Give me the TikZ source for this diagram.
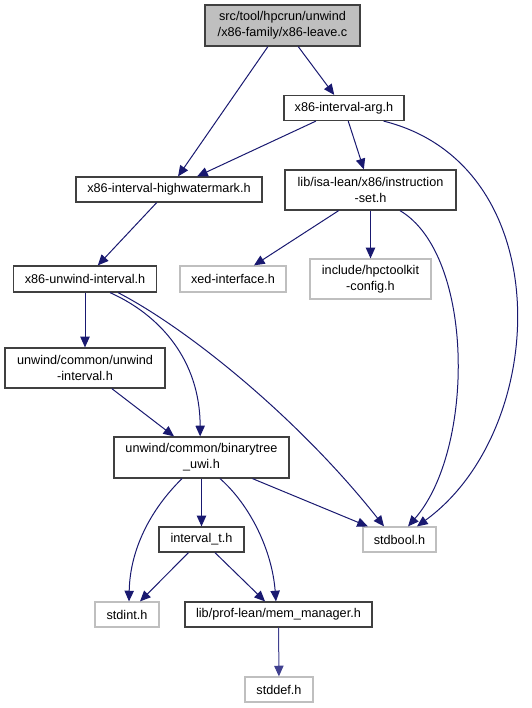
\documentclass[tikz,border=0pt]{standalone}
\usepackage{fontspec}
\setmainfont{Liberation Sans}
\usetikzlibrary{arrows.meta}
\definecolor{incedge}{HTML}{191970}
\definecolor{incfaint}{HTML}{40408F}
\definecolor{incframe}{HTML}{404040}
\definecolor{incgrey}{HTML}{BFBFBF}

\begin{document}
\begin{tikzpicture}[
        x=0.75pt, y=-0.75pt,
        font=\fontsize{9.5}{12}\selectfont,
        file/.style={draw=incframe, line width=0.9pt, rectangle, align=center,
                     inner sep=0pt, minimum height=18.75pt},
        twoline/.style={minimum height=30pt},
        ext/.style={file, draw=incgrey},
        root/.style={file, fill=incgrey},
        edge/.style={-{Triangle[length=8pt,width=7pt]}, incedge, line width=0.75pt},
        faint/.style={edge, incfaint}
    ]
        \useasboundingbox (0,0) rectangle (532,708);

        % files
        \node[root, twoline, minimum width=116.25pt, minimum height=30.75pt] (leave) at (282.5,25.5)
            {src/tool/hpcrun/unwind\\/x86-family/x86-leave.c};
        \node[file, minimum width=90pt] (arg) at (344,108) {x86-interval-arg.h};
        \node[file, minimum width=139.5pt] (hwm) at (169,189.5) {x86-interval-highwatermark.h};
        \node[file, twoline, minimum width=128.25pt] (iset) at (370.5,190)
            {lib/isa-lean/x86/instruction\\-set.h};
        \node[file, minimum width=107.25pt, minimum height=19.5pt] (uwint) at (85,279) {x86-unwind-interval.h};
        \node[ext, minimum width=79.5pt, minimum height=19.5pt] (xed) at (233,279) {xed-interface.h};
        \node[ext, twoline, minimum width=90.75pt] (hpctk) at (370.5,279)
            {include/hpctoolkit\\-config.h};
        \node[file, twoline, minimum width=120pt] (cmnint) at (85,368)
            {unwind/common/unwind\\-interval.h};
        \node[file, twoline, minimum width=131.25pt, minimum height=30.75pt] (btree) at (201.5,457.5)
            {unwind/common/binarytree\\\_uwi.h};
        \node[ext, minimum width=54.75pt] (stdbool) at (399.5,539.5) {stdbool.h};
        \node[file, minimum width=63.75pt] (ivalt) at (201.5,539.5) {interval\_t.h};
        \node[ext, minimum width=48pt] (stdint) at (127,614.5) {stdint.h};
        \node[file, minimum width=140.25pt] (memmgr) at (278.5,614.5) {lib/prof-lean/mem\_manager.h};
        \node[ext, minimum width=51pt] (stddef) at (279,689.5) {stddef.h};

        % includes
        \draw[edge] (leave) -- (hwm);
        \draw[edge] (leave) -- (arg);
        \draw[edge] (arg) -- (hwm);
        \draw[edge] (arg) -- (iset);
        \draw[edge] ([xshift=-15.75pt]arg.south east) .. controls (560,165) and (550,430) .. ([xshift=13.1pt]stdbool.north);
        \draw[edge] (iset) -- (xed);
        \draw[edge] (iset) -- (hpctk);
        \draw[edge] ([xshift=22.1pt]iset.south) .. controls (475,255) and (475,450) .. ([xshift=6.4pt]stdbool.north);
        \draw[edge] (hwm) -- (uwint);
        \draw[edge] (uwint) -- (cmnint);
        \draw[edge] ([xshift=18.75pt]uwint.south) .. controls (160,315) and (200,360) .. ([xshift=-1pt]btree.north);
        \draw[edge] ([xshift=24.75pt]uwint.south) .. controls (190,330) and (300,420) .. ([xshift=-11.6pt]stdbool.north);
        \draw[edge] (cmnint) -- (btree);
        \draw[edge] ([xshift=-14.6pt]btree.south) .. controls (150,510) and (130,550) .. ([xshift=1.5pt]stdint.north);
        \draw[edge] (btree) -- (ivalt);
        \draw[edge] ([xshift=13.9pt]btree.south) .. controls (250,505) and (272,550) .. ([xshift=-1.9pt]memmgr.north);
        \draw[edge] (btree) -- (stdbool);
        \draw[edge] (ivalt) -- (stdint);
        \draw[edge] (ivalt) -- (memmgr);
        \draw[faint] (memmgr) -- (stddef);
    \end{tikzpicture}
\end{document}
